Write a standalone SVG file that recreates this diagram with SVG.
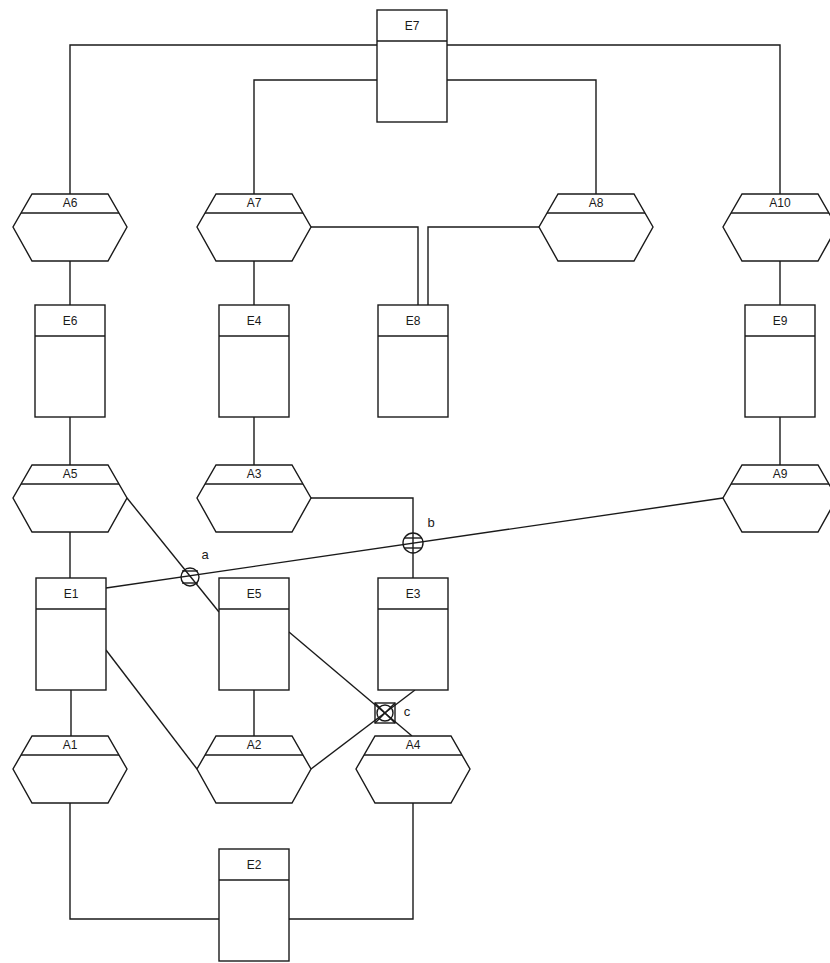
<svg xmlns="http://www.w3.org/2000/svg" xmlns:xlink="http://www.w3.org/1999/xlink" width="830" height="963" viewBox="0 0 830 963">
<style>
.s{fill:none;stroke:#1a1a1a;stroke-width:1.4}
.b{fill:#fff;stroke:#1a1a1a;stroke-width:1.4}
.t{font-family:"Liberation Sans",Arial,sans-serif;font-size:12px;fill:#1a1a1a;text-anchor:middle}
.l{font-family:"Liberation Sans",Arial,sans-serif;font-size:13px;fill:#1a1a1a;text-anchor:middle}
</style>
<defs>
<g id="hex">
<polygon class="b" points="-38,-33 38,-33 57,0 38,34 -38,34 -57,0"/>
<line class="s" x1="-49" y1="-14" x2="49" y2="-14"/>
</g>
<g id="ent">
<rect class="b" x="-35" y="0" width="70" height="112"/>
<line class="s" x1="-35" y1="31" x2="35" y2="31"/>
</g>
</defs>
<rect width="830" height="963" fill="#fff"/>
<g id="connectors">
<path class="s" d="M377,45 H70 V194"/>
<path class="s" d="M447,45 H780 V194"/>
<path class="s" d="M377,80 H254 V194"/>
<path class="s" d="M447,80 H596 V194"/>
<path class="s" d="M311,227 H418 V305"/>
<path class="s" d="M539,227 H428 V305"/>
<path class="s" d="M70,261 V305 M254,261 V305 M780,261 V305"/>
<path class="s" d="M70,417 V465 M254,417 V465 M780,417 V465"/>
<path class="s" d="M70,532 V578"/>
<path class="s" d="M311,498 H413 V578"/>
<path class="s" d="M106,588 L723,498"/>
<path class="s" d="M127,498 L219,612"/>
<path class="s" d="M106,650 L197,769"/>
<path class="s" d="M289,632 L412,736"/>
<path class="s" d="M415,690 L311,769"/>
<path class="s" d="M71,690 V736 M254,690 V736"/>
<path class="s" d="M70,803 V919 H219"/>
<path class="s" d="M413,803 V919 H289"/>
</g>
<g id="E7"><use xlink:href="#ent" x="412" y="10"/><text class="t" x="412" y="30">E7</text></g>
<g id="A6"><use xlink:href="#hex" x="70" y="227"/><text class="t" x="70" y="207">A6</text></g>
<g id="A7"><use xlink:href="#hex" x="254" y="227"/><text class="t" x="254" y="207">A7</text></g>
<g id="A8"><use xlink:href="#hex" x="596" y="227"/><text class="t" x="596" y="207">A8</text></g>
<g id="A10"><use xlink:href="#hex" x="780" y="227"/><text class="t" x="780" y="207">A10</text></g>
<g id="E6"><use xlink:href="#ent" x="70" y="305"/><text class="t" x="70" y="325">E6</text></g>
<g id="E4"><use xlink:href="#ent" x="254" y="305"/><text class="t" x="254" y="325">E4</text></g>
<g id="E8"><use xlink:href="#ent" x="413" y="305"/><text class="t" x="413" y="325">E8</text></g>
<g id="E9"><use xlink:href="#ent" x="780" y="305"/><text class="t" x="780" y="325">E9</text></g>
<g id="A5"><use xlink:href="#hex" x="70" y="498"/><text class="t" x="70" y="478">A5</text></g>
<g id="A3"><use xlink:href="#hex" x="254" y="498"/><text class="t" x="254" y="478">A3</text></g>
<g id="A9"><use xlink:href="#hex" x="780" y="498"/><text class="t" x="780" y="478">A9</text></g>
<g id="E1"><use xlink:href="#ent" x="71" y="578"/><text class="t" x="71" y="598">E1</text></g>
<g id="E5"><use xlink:href="#ent" x="254" y="578"/><text class="t" x="254" y="598">E5</text></g>
<g id="E3"><use xlink:href="#ent" x="413" y="578"/><text class="t" x="413" y="598">E3</text></g>
<g id="A1"><use xlink:href="#hex" x="70" y="769"/><text class="t" x="70" y="749">A1</text></g>
<g id="A2"><use xlink:href="#hex" x="254" y="769"/><text class="t" x="254" y="749">A2</text></g>
<g id="A4"><use xlink:href="#hex" x="413" y="769"/><text class="t" x="413" y="749">A4</text></g>
<g id="E2"><use xlink:href="#ent" x="254" y="849"/><text class="t" x="254" y="869">E2</text></g>
<g id="junction-a">
<circle class="s" cx="190" cy="577" r="9"/>
<line class="s" x1="182" y1="571" x2="198" y2="571"/>
<line class="s" x1="182" y1="583" x2="198" y2="583"/>
<text class="l" x="205" y="559">a</text>
</g>
<g id="junction-b">
<circle class="s" cx="413" cy="543" r="10"/>
<line class="s" x1="404" y1="538" x2="422" y2="538"/>
<line class="s" x1="404" y1="548" x2="422" y2="548"/>
<text class="l" x="431" y="527">b</text>
</g>
<g id="junction-c">
<rect class="s" x="375" y="703" width="20" height="20"/>
<circle class="s" cx="385" cy="713" r="8"/>
<line class="s" x1="375" y1="703" x2="395" y2="723"/>
<line class="s" x1="395" y1="703" x2="375" y2="723"/>
<text class="l" x="407" y="716">c</text>
</g>
</svg>
